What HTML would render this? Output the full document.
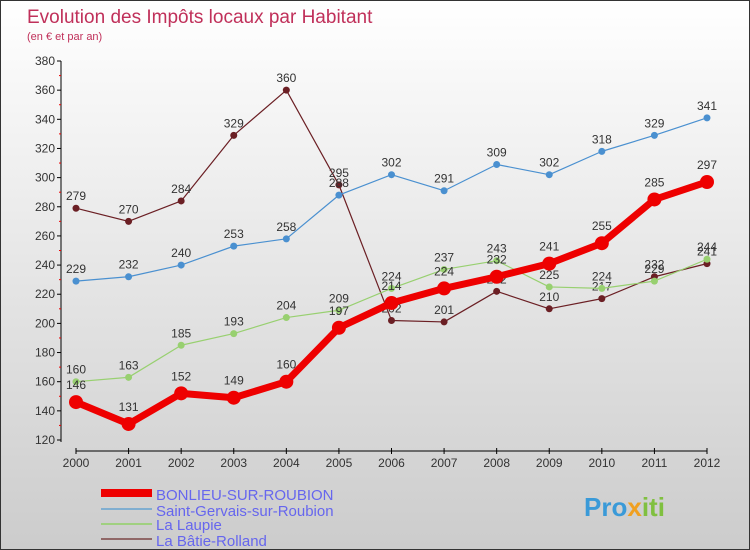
<!DOCTYPE html>
<html><head><meta charset="utf-8"><style>
body{margin:0}
#c{width:750px;height:550px;position:relative;box-sizing:border-box;border:1px solid #333;background:linear-gradient(#fff,#ccc);font-family:"Liberation Sans",sans-serif;overflow:hidden}
svg text{font-family:"Liberation Sans",sans-serif}
</style></head><body>
<div id="c">
<svg id="s" width="750" height="550">
<text x="26" y="22" font-size="19" fill="#c0305a">Evolution des Impôts locaux par Habitant</text>
<text x="26" y="39" font-size="11" fill="#c0305a">(en € et par an)</text>
<line x1="60" y1="60" x2="60" y2="441" stroke="#000"/>
<line x1="75" y1="450" x2="706" y2="450" stroke="#000"/>
<g id="g"></g>
<g>
<line x1="100" y1="492" x2="151" y2="492" stroke="#e00" stroke-width="8"/>
<text x="155" y="499" font-size="15" fill="#6666ee">BONLIEU-SUR-ROUBION</text>
<line x1="100" y1="508" x2="151" y2="508" stroke="#80aed0" stroke-width="2"/>
<text x="155" y="515" font-size="15" fill="#6666ee">Saint-Gervais-sur-Roubion</text>
<line x1="100" y1="523" x2="151" y2="523" stroke="#a0d080" stroke-width="2"/>
<text x="155" y="529" font-size="15" fill="#6666ee">La Laupie</text>
<line x1="100" y1="538" x2="151" y2="538" stroke="#906868" stroke-width="2"/>
<text x="155" y="545" font-size="15" fill="#6666ee">La Bâtie-Rolland</text>
</g>
<text x="583" y="515" font-size="26" font-weight="bold" fill="#3a9ad8">Pro<tspan fill="#f0a020">x</tspan><tspan fill="#80c040">iti</tspan></text>
</svg>
</div>
<script>
const years=[2000,2001,2002,2003,2004,2005,2006,2007,2008,2009,2010,2011,2012];
const yTicks=[120,140,160,180,200,220,240,260,280,300,320,340,360,380];
const bonlieu=[146,131,152,149,160,197,214,224,232,241,255,285,297];
const stGervais=[229,232,240,253,258,288,302,291,309,302,318,329,341];
const laupie=[160,163,185,193,204,209,224,237,243,225,224,229,244];
const batie=[279,270,284,329,360,295,202,201,222,210,217,232,241];
const X=i=>75+i*(706-75)/(years.length-1);
const Y=v=>439-(v-120)*(439-60)/(380-120);
const g=document.getElementById('g');
const NS='http://www.w3.org/2000/svg';
function mk(t,a){const e=document.createElementNS(NS,t);for(const k in a)e.setAttribute(k,a[k]);g.appendChild(e);return e;}
yTicks.forEach((v,i)=>{
 let l=mk('line',{x1:56,x2:60,y1:Y(v),y2:Y(v),stroke:'#000'});
 
 
 if(i<yTicks.length-1){let m=mk('line',{x1:58,x2:60,y1:Y(v+10),y2:Y(v+10),stroke:'#e00'});
 
 }
 let t=mk('text',{x:54,y:Y(v)+4,'font-size':12,fill:'#333','text-anchor':'end'});t.textContent=v;
 
 
});
years.forEach((yr,i)=>{
 let l=mk('line',{x1:X(i),x2:X(i),y1:447,y2:453,stroke:'#000'});
 
 
 let t=mk('text',{x:X(i),y:466,'font-size':12,fill:'#333','text-anchor':'middle'});t.textContent=yr;
 
 
});
function series(d,col,w,r,name,off){
 let p=mk('polyline',{points:d.map((v,i)=>X(i)+','+Y(v)).join(' '),fill:'none',stroke:col,'stroke-width':w,'stroke-linejoin':'round'});
 
 
 d.forEach((v,i)=>{
  let c=mk('circle',{cx:X(i),cy:Y(v),r:r,fill:col});
  
  
  let t=mk('text',{x:X(i),y:Y(v)-off,'font-size':12,fill:'#333','text-anchor':'middle'});t.textContent=v;
  
  
 });
}
series(batie,'#6b1f24',1.2,3.5,'batie',8);
series(laupie,'#98d070',1.2,3.5,'laupie',8);
series(stGervais,'#4a90d0',1.2,3.5,'saint-gervais',8);
series(bonlieu,'#ee0000',7,7,'bonlieu',13);
</script>
</body></html>
